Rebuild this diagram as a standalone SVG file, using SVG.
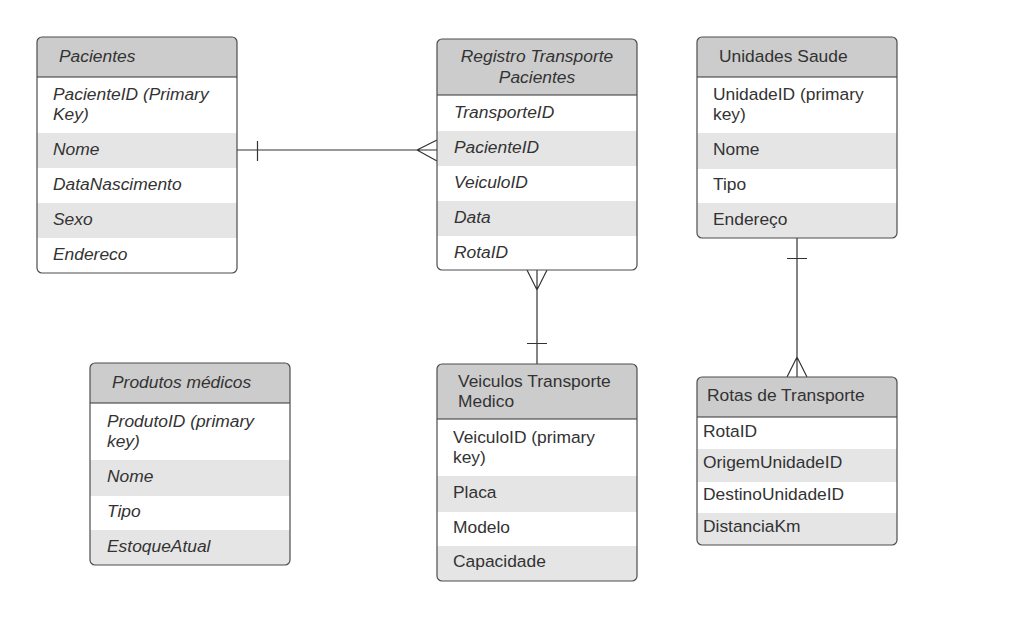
<svg xmlns="http://www.w3.org/2000/svg" width="1032" height="623" viewBox="0 0 1032 623">
<style>
text{font-family:"Liberation Sans",Arial,sans-serif;font-size:17.4px;fill:#333333}
.it{font-style:italic}
.hd{fill:#cccccc}
.g{fill:#e5e5e5}
.w{fill:#ffffff}
.bd{fill:none;stroke:#4d4d4d;stroke-width:1.2}
.sep{stroke:#333333;stroke-width:1.2}
.ln{fill:none;stroke:#333333;stroke-width:1.2}
</style>
<defs>
<clipPath id="cp1"><rect x="37" y="37" width="200" height="236" rx="5"/></clipPath>
<clipPath id="cp2"><rect x="437" y="39" width="200" height="231" rx="5"/></clipPath>
<clipPath id="cp3"><rect x="697" y="37" width="200" height="201" rx="5"/></clipPath>
<clipPath id="cp4"><rect x="90" y="363" width="200" height="202" rx="5"/></clipPath>
<clipPath id="cp5"><rect x="437" y="364" width="200" height="217" rx="5"/></clipPath>
<clipPath id="cp6"><rect x="697" y="377" width="200" height="168" rx="5"/></clipPath>
</defs>
<rect width="1032" height="623" fill="#ffffff"/>

<g id="connectors">
<path class="ln" d="M237 150H437M257.5 141V161M417 150L437 140M417 150L437 161"/>
<path class="ln" d="M537 270V364M527 270L537 290L547 270M527 343.5H547"/>
<path class="ln" d="M797 238V377M787 258.5H807M787 377L797 357L807 377"/>
</g>

<g id="pacientes">
<g clip-path="url(#cp1)">
<rect class="hd" x="37" y="37" width="200" height="40"/>
<rect class="w" x="37" y="77" width="200" height="56"/>
<rect class="g" x="37" y="133" width="200" height="35"/>
<rect class="w" x="37" y="168" width="200" height="35"/>
<rect class="g" x="37" y="203" width="200" height="35"/>
<rect class="w" x="37" y="238" width="200" height="35"/>
</g>
<line class="sep" x1="37" y1="77" x2="237" y2="77"/>
<rect class="bd" x="37" y="37" width="200" height="236" rx="5"/>
<text class="it" x="59" y="62">Pacientes</text>
<text class="it" x="53" y="100">PacienteID (Primary</text>
<text class="it" x="53" y="120">Key)</text>
<text class="it" x="53" y="155">Nome</text>
<text class="it" x="53" y="190">DataNascimento</text>
<text class="it" x="53" y="225">Sexo</text>
<text class="it" x="53" y="260">Endereco</text>
</g>

<g id="registro">
<g clip-path="url(#cp2)">
<rect class="hd" x="437" y="39" width="200" height="56"/>
<rect class="w" x="437" y="95" width="200" height="36"/>
<rect class="g" x="437" y="131" width="200" height="35"/>
<rect class="w" x="437" y="166" width="200" height="35"/>
<rect class="g" x="437" y="201" width="200" height="35"/>
<rect class="w" x="437" y="236" width="200" height="34"/>
</g>
<line class="sep" x1="437" y1="95" x2="637" y2="95"/>
<rect class="bd" x="437" y="39" width="200" height="231" rx="5"/>
<text class="it" x="537" y="62" text-anchor="middle">Registro Transporte</text>
<text class="it" x="537" y="83" text-anchor="middle">Pacientes</text>
<text class="it" x="454" y="118">TransporteID</text>
<text class="it" x="454" y="153">PacienteID</text>
<text class="it" x="454" y="188">VeiculoID</text>
<text class="it" x="454" y="223">Data</text>
<text class="it" x="454" y="258">RotaID</text>
</g>

<g id="unidades">
<g clip-path="url(#cp3)">
<rect class="hd" x="697" y="37" width="200" height="40"/>
<rect class="w" x="697" y="77" width="200" height="56"/>
<rect class="g" x="697" y="133" width="200" height="36"/>
<rect class="w" x="697" y="169" width="200" height="34"/>
<rect class="g" x="697" y="203" width="200" height="35"/>
</g>
<line class="sep" x1="697" y1="77" x2="897" y2="77"/>
<rect class="bd" x="697" y="37" width="200" height="201" rx="5"/>
<text x="719" y="62">Unidades Saude</text>
<text x="713" y="100">UnidadeID (primary</text>
<text x="713" y="120">key)</text>
<text x="713" y="155">Nome</text>
<text x="713" y="190">Tipo</text>
<text x="713" y="225">Endereço</text>
</g>

<g id="produtos">
<g clip-path="url(#cp4)">
<rect class="hd" x="90" y="363" width="200" height="40"/>
<rect class="w" x="90" y="403" width="200" height="57"/>
<rect class="g" x="90" y="460" width="200" height="36"/>
<rect class="w" x="90" y="496" width="200" height="34"/>
<rect class="g" x="90" y="530" width="200" height="35"/>
</g>
<line class="sep" x1="90" y1="403" x2="290" y2="403"/>
<rect class="bd" x="90" y="363" width="200" height="202" rx="5"/>
<text class="it" x="112" y="388">Produtos médicos</text>
<text class="it" x="107" y="427">ProdutoID (primary</text>
<text class="it" x="107" y="447">key)</text>
<text class="it" x="107" y="482">Nome</text>
<text class="it" x="107" y="517">Tipo</text>
<text class="it" x="107" y="552">EstoqueAtual</text>
</g>

<g id="veiculos">
<g clip-path="url(#cp5)">
<rect class="hd" x="437" y="364" width="200" height="55"/>
<rect class="w" x="437" y="419" width="200" height="57"/>
<rect class="g" x="437" y="476" width="200" height="36"/>
<rect class="w" x="437" y="512" width="200" height="34"/>
<rect class="g" x="437" y="546" width="200" height="35"/>
</g>
<line class="sep" x1="437" y1="419" x2="637" y2="419"/>
<rect class="bd" x="437" y="364" width="200" height="217" rx="5"/>
<text x="458" y="387">Veiculos Transporte</text>
<text x="458" y="407">Medico</text>
<text x="453" y="443">VeiculoID (primary</text>
<text x="453" y="463">key)</text>
<text x="453" y="498">Placa</text>
<text x="453" y="533">Modelo</text>
<text x="453" y="567">Capacidade</text>
</g>

<g id="rotas">
<g clip-path="url(#cp6)">
<rect class="hd" x="697" y="377" width="200" height="40"/>
<rect class="w" x="697" y="417" width="200" height="32"/>
<rect class="g" x="697" y="449" width="200" height="33"/>
<rect class="w" x="697" y="482" width="200" height="31"/>
<rect class="g" x="697" y="513" width="200" height="32"/>
</g>
<line class="sep" x1="697" y1="417" x2="897" y2="417"/>
<rect class="bd" x="697" y="377" width="200" height="168" rx="5"/>
<text x="707" y="401">Rotas de Transporte</text>
<text x="703" y="437">RotaID</text>
<text x="703" y="468">OrigemUnidadeID</text>
<text x="703" y="500">DestinoUnidadeID</text>
<text x="703" y="532">DistanciaKm</text>
</g>
</svg>
